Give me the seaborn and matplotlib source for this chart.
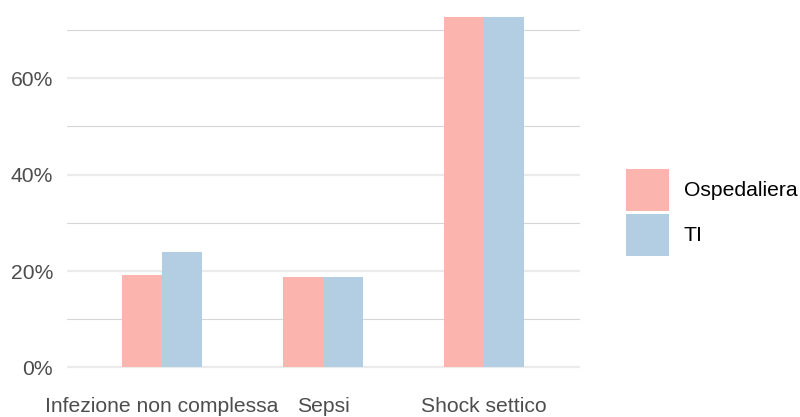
import matplotlib
matplotlib.use('Agg')
import matplotlib.pyplot as plt
import seaborn as sns
import pandas as pd
from matplotlib.ticker import FuncFormatter, MultipleLocator

# dati (percentuali)
categorie = ['Infezione non complessa', 'Sepsi', 'Shock settico']
ospedaliera = [19.2, 18.8, 72.7]
ti = [23.9, 18.8, 72.7]
gruppi = ['Ospedaliera', 'TI']
colori = ['#FBB4AE', '#B3CDE3']

df = pd.DataFrame({
    'categoria': categorie * 2,
    'gruppo': [gruppi[0]] * len(categorie) + [gruppi[1]] * len(categorie),
    'valore': ospedaliera + ti,
})

sns.set_theme(style='white')
plt.rcParams['font.family'] = ['Liberation Sans', 'DejaVu Sans']

fig = plt.figure(figsize=(8, 4.17), dpi=100)
ax = fig.add_axes([67 / 800, 1 - 390 / 417, 513 / 800, 385 / 417])

sns.barplot(data=df, x='categoria', y='valore', hue='gruppo', order=categorie,
            hue_order=gruppi, palette=colori, width=0.5, saturation=1,
            linewidth=0, ax=ax, zorder=3)

ax.set_xlim(-0.59, 2.596)
ax.set_ylim(-4.67, 75.2)
ax.yaxis.set_major_locator(MultipleLocator(20))
ax.yaxis.set_minor_locator(MultipleLocator(10))
ax.yaxis.set_major_formatter(FuncFormatter(lambda v, p: f'{v:.0f}%'))
ax.grid(which='major', axis='y', color='#EBEBEB', linewidth=1.6, zorder=0)
ax.grid(which='minor', axis='y', color='#D6D6D6', linewidth=0.8, zorder=0)
ax.grid(which='major', axis='x', visible=False)
ax.set_axisbelow(True)
ax.tick_params(axis='both', which='both', length=0, labelsize=15.2, colors='#4D4D4D')
ax.tick_params(axis='y', pad=10)
ax.tick_params(axis='x', pad=5)
ax.set_xlabel('')
ax.set_ylabel('')
for s in ax.spines.values():
    s.set_visible(False)

ax.legend(loc='center left', bbox_to_anchor=(615 / 800, 1 - 212.5 / 417),
          bbox_transform=fig.transFigure, frameon=False, borderpad=0,
          handlelength=2.04, handleheight=2.67, labelspacing=0.14,
          handletextpad=0.71, fontsize=15.2, title=None, labelcolor='black')

fig.savefig('out.png', dpi=100)
